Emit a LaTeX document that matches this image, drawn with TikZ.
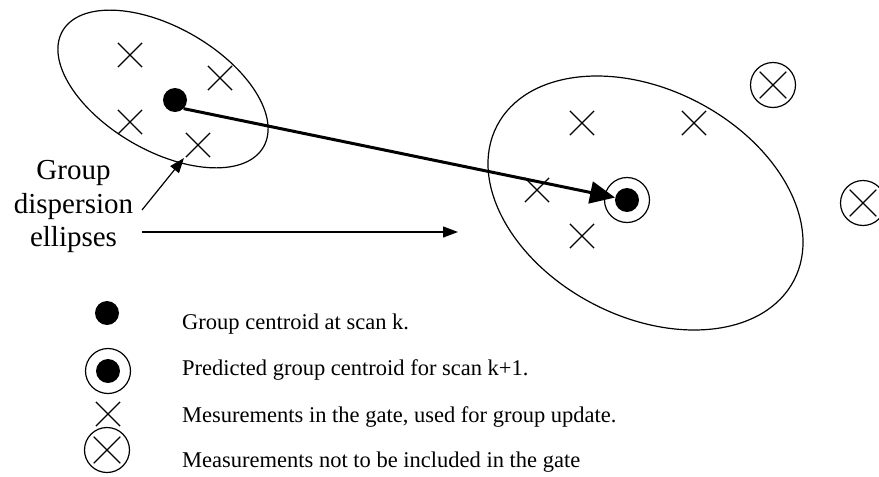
\documentclass[tikz,border=0pt]{standalone}
\usepackage{fontspec}
\setmainfont{Liberation Serif}
\usetikzlibrary{arrows.meta,shapes.misc}
\tikzset{
  thinline/.style={line width=1.2pt},
  dot/.style={circle,fill=black,inner sep=0pt,minimum size=24pt},
  ring/.style={circle,draw,thinline,inner sep=0pt,minimum size=45pt},
  xmark/.style={cross out,draw,thinline,inner sep=0pt,minimum size=23pt},
  oxmark/.style={circle,draw,thinline,inner sep=0pt,minimum size=45pt,
    path picture={
      \draw[thinline] ([shift={(-13.3pt,-13.3pt)}]path picture bounding box.center)
        -- ([shift={(13.3pt,13.3pt)}]path picture bounding box.center);
      \draw[thinline] ([shift={(-13.3pt,13.3pt)}]path picture bounding box.center)
        -- ([shift={(13.3pt,-13.3pt)}]path picture bounding box.center);}},
  gate/.style={thinline},
  bigtext/.style={font=\fontsize{29}{33.5}\selectfont,align=center,inner sep=0pt},
  legtext/.style={font=\fontsize{22.5}{27}\selectfont,anchor=base west,inner sep=0pt},
  thinarrow/.style={thinline,-{Triangle[length=15pt,width=11pt]}},
  trackarrow/.style={line width=3pt,-{Triangle[length=25pt,width=22pt]}}
}
\begin{document}
\begin{tikzpicture}[x=1pt,y=-1pt]
\useasboundingbox (0,0) rectangle (879,477);

% dispersion ellipses at scan k and scan k+1
\draw[gate,rotate around={-30:(163,89)}] (163,89) ellipse [x radius=116pt,y radius=61.7pt];
\draw[gate,rotate around={-27.5:(645.5,203)}] (645.5,203) ellipse [x radius=167.4pt,y radius=113.6pt];

% group at scan k
\node[xmark] (ma) at (130,55) {};
\node[xmark] (mb) at (220,78) {};
\node[xmark] (mc) at (130,122) {};
\node[xmark] (md) at (198,145) {};
\node[dot] (c0) at (175,100) {};

% measurements at scan k+1
\node[xmark] (me) at (582,123) {};
\node[xmark] (mf) at (694,123) {};
\node[xmark] (mg) at (537,190) {};
\node[xmark] (mh) at (582,236) {};
\node[ring] (p1) at (627,200) {};
\node[dot] (c1) at (627,200) {};
\node[oxmark] (oa) at (773,85) {};
\node[oxmark] (ob) at (863,203) {};

% predicted motion of the centroid
\draw[trackarrow] (c0.-45) -- (c1);

% label and its pointers
\node[bigtext] (grp) at (73.5,206.8) {Group\\dispersion\\ellipses};
\coordinate (s1) at (142,210);
\coordinate (t1) at (184,158);
\coordinate (s2) at (142,232);
\coordinate (t2) at (458,232);
\draw[thinarrow] (s1) -- (t1);
\draw[thinarrow] (s2) -- (t2);

% legend
\node[dot] (l1) at (107,313) {};
\node[ring] (l2r) at (108,371) {};
\node[dot] (l2) at (108,371) {};
\node[xmark] (l3) at (108,414) {};
\node[oxmark] (l4) at (107,450) {};
\node[legtext] (t1l) at (182,329) {Group centroid at scan k.};
\node[legtext] (t2l) at (182,375) {Predicted group centroid for scan k+1.};
\node[legtext] (t3l) at (182,422) {Mesurements in the gate, used for group update.};
\node[legtext] (t4l) at (182,467) {Measurements not to be included in the gate};
\end{tikzpicture}
\end{document}
